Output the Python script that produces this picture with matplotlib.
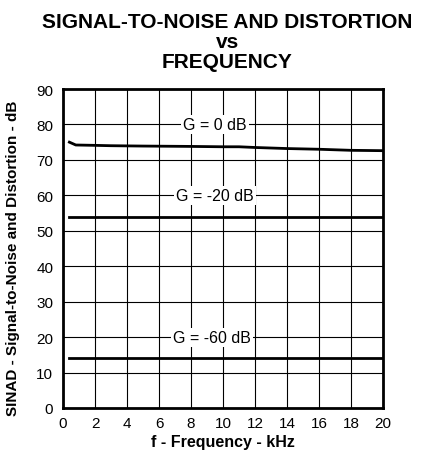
import matplotlib
matplotlib.use("Agg")
import matplotlib.pyplot as plt
import numpy as np

plt.rcParams['font.family'] = ['Liberation Sans', 'DejaVu Sans']

freq_khz = [0.4, 0.8, 2, 3, 5, 8, 10, 11, 12, 14, 15, 16, 18, 20]
sinad_g0 = [75.0, 74.2, 74.1, 74.0, 73.9, 73.8, 73.7, 73.7, 73.5, 73.2, 73.1, 73.0, 72.7, 72.6]
freq_flat = [0.4, 20]
sinad_g20 = [54.0, 54.0]
sinad_g60 = [14.0, 14.0]

labels = ["G = 0 dB", "G = -20 dB", "G = -60 dB"]
label_pos = [(9.5, 80), (9.5, 60), (9.3, 20)]

xticks = list(range(0, 21, 2))
yticks = list(range(0, 91, 10))

fig = plt.figure(figsize=(4.21, 4.52), dpi=100)
ax = fig.add_axes([63/421, 1-409/452, 320/421, 319/452])

ax.plot(freq_khz, sinad_g0, color='black', lw=2, zorder=3)
ax.plot(freq_flat, sinad_g20, color='black', lw=2, zorder=3)
ax.plot(freq_flat, sinad_g60, color='black', lw=2, zorder=3)

for t, (x, y) in zip(labels, label_pos):
    ax.text(x, y, t, ha='center', va='center', fontsize=11.5, zorder=4,
            bbox=dict(facecolor='white', edgecolor='none', pad=1.5))

ax.set_xlim(0, 20)
ax.set_ylim(0, 90)
ax.set_xticks(xticks)
ax.set_yticks(yticks)
ax.grid(True, color='black', lw=0.8)
ax.set_axisbelow(True)
for s in ax.spines.values():
    s.set_linewidth(2)
ax.tick_params(axis='x', length=0, labelsize=11, pad=6)
ax.tick_params(axis='y', length=0, labelsize=11, pad=7)

ax.set_xlabel("f - Frequency - kHz", fontsize=11.5, fontweight='bold', labelpad=3)
ax.set_ylabel("SINAD - Signal-to-Noise and Distortion - dB", fontsize=11, fontweight='bold')
ax.yaxis.set_label_coords(-0.134, 0.473)
fig.suptitle("SIGNAL-TO-NOISE AND DISTORTION\nvs\nFREQUENCY", x=0.54, y=0.972,
             fontsize=15, fontweight='bold', linespacing=1.08)

fig.savefig("out.png", dpi=100)
